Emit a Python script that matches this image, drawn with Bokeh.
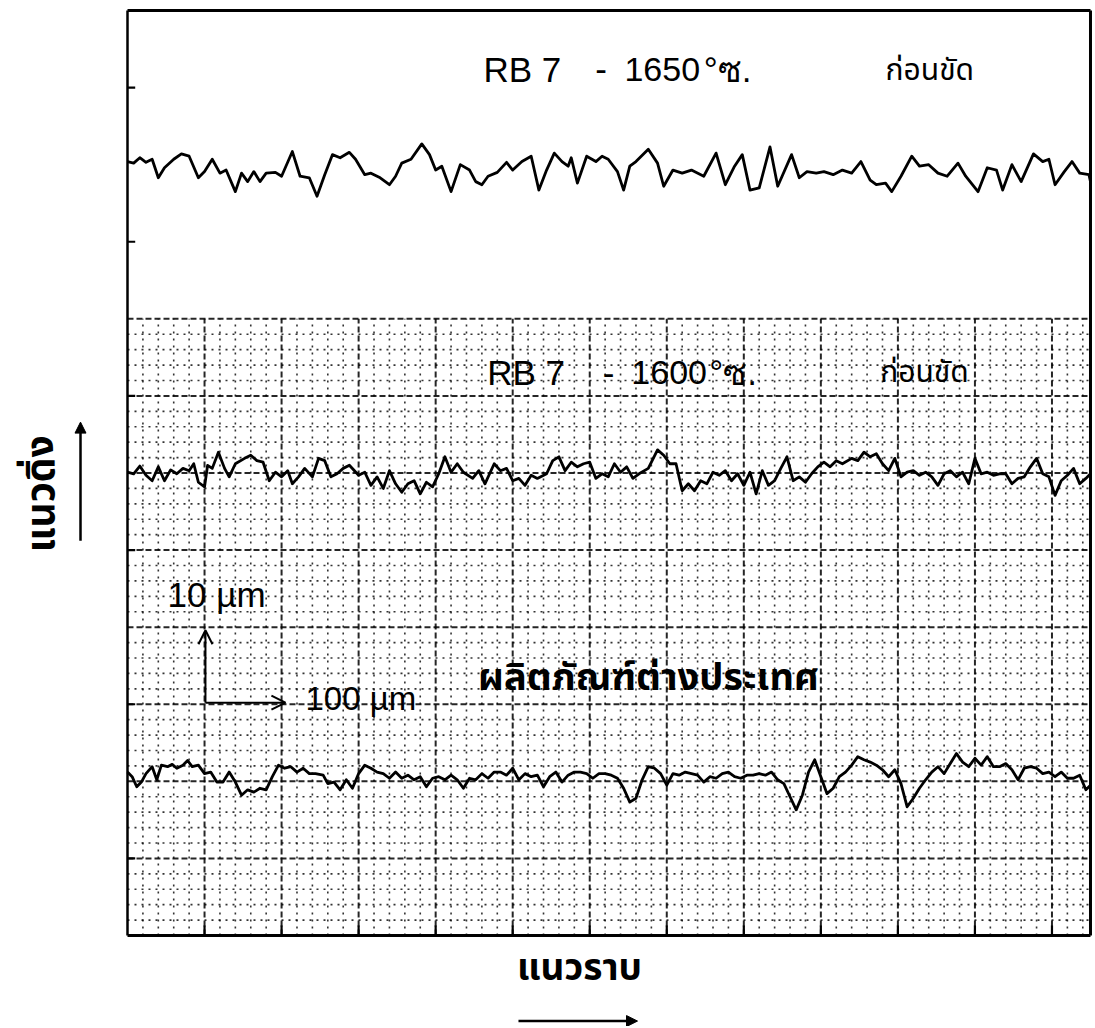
from bokeh.plotting import figure
from bokeh.models import Range1d, Label, Arrow, OpenHead, NormalHead, ColumnDataSource
from bokeh.embed import file_html
from bokeh.resources import INLINE

# ---------------- data (µm) ----------------
# profile 1: RB 7 - 1650 °C, before polishing (mean line at 100 µm on chart)
p1_x = [0, 8, 16, 24, 32, 40, 48, 60, 70, 80, 92, 100, 110, 120, 128, 140, 148, 156, 164, 172,
        180, 192, 200, 214, 224, 236, 246, 256, 266, 276, 288, 296, 308, 316, 328, 340, 348, 356,
        368, 382, 392, 400, 408, 420, 432, 444, 452, 460, 468, 480, 492, 500, 512, 524, 534, 544,
        554, 564, 572, 576, 584, 596, 608, 616, 624, 636, 644, 652, 660, 676, 688, 696, 708, 720,
        732, 748, 764, 776, 788, 798, 808, 820, 834, 844, 862, 872, 882, 894, 904, 916, 928, 940,
        952, 964, 972, 984, 992, 1004, 1018, 1028, 1040, 1052, 1064, 1078, 1088, 1104, 1116, 1128,
        1136, 1148, 1160, 1176, 1188, 1196, 1204, 1216, 1226, 1236, 1248, 1250]
p1_h = [0.4, 0.2, 0.9, 0.3, 0.7, -1.7, -0.4, 0.7, 1.4, 1.1, -1.7, -0.9, 0.7, -1.1, -0.7, -3.5,
        -1.1, -2.2, -0.9, -2.2, -1.1, -1.0, -1.5, 1.7, -1.5, -1.7, -4.1, -1.3, 1.3, 0.9, 1.6, 0.7,
        -1.3, -1.1, -1.7, -2.6, -1.5, 0.2, 0.7, 2.7, 1.3, -0.7, -0.2, -3.5, 0.0, -0.7, -2.2, -2.6,
        -1.5, -1.0, 0.3, -0.7, 0.4, 1.1, -3.3, -0.7, 1.5, 0.4, -0.2, 0.9, -2.4, 1.1, 0.4, 1.1, 0.7,
        -0.9, -3.3, -0.2, 0.4, 2.0, 0.2, -2.8, -0.7, -1.1, -0.7, -1.5, 1.5, -2.6, -0.2, 1.3, -3.3,
        -3.0, 2.3, -2.8, 1.3, -1.7, -0.9, -1.1, -0.9, -1.3, -0.7, -1.1, 0.4, -2.0, -2.6, -2.4,
        -3.5, -1.5, 1.1, -0.2, 0.0, -1.1, -1.5, 0.2, -1.5, -3.5, -0.4, -0.7, -3.3, 0.0, -2.2, 1.4,
        0.4, 0.7, -2.6, -0.9, 0.4, -1.1, -1.3, -2.2]

# profile 2: RB 7 - 1600 °C, before polishing (mean line at 60 µm)
p2_x = [0, 8, 16, 24, 32, 40, 48, 56, 64, 72, 80, 86, 92, 100, 104, 110, 118, 126, 132, 140,
        152, 160, 168, 176, 184, 192, 200, 208, 214, 222, 230, 240, 248, 256, 264, 272, 280, 288,
        300, 308, 316, 324, 332, 340, 348, 356, 364, 372, 380, 388, 396, 404, 412, 420, 428, 436,
        448, 456, 464, 476, 484, 492, 500, 508, 516, 524, 532, 544, 552, 560, 568, 576, 584, 592,
        600, 608, 616, 624, 632, 640, 648, 656, 664, 676, 688, 696, 704, 712, 720, 728, 736, 744,
        752, 760, 768, 776, 784, 792, 800, 808, 816, 824, 832, 840, 848, 856, 864, 872, 880, 888,
        896, 904, 912, 920, 928, 940, 948, 956, 964, 972, 980, 988, 996, 1004, 1012, 1020, 1028,
        1036, 1044, 1052, 1060, 1068, 1076, 1084, 1092, 1100, 1108, 1116, 1124, 1132, 1140, 1148,
        1156, 1164, 1172, 1180, 1188, 1196, 1204, 1212, 1220, 1228, 1236, 1244, 1250]
p2_h = [0.1, -0.1, 0.9, -0.3, -1.0, 0.8, -1.0, 0.4, -0.1, 0.6, 0.3, 1.2, -1.2, -1.8, 1.0, 0.6,
        2.7, 0.6, -0.5, 1.2, 1.9, 2.3, 1.6, 1.4, -1.0, 0.1, -0.5, 0.3, -1.4, -0.5, 0.6, -0.5, 1.9,
        1.6, -0.5, -0.1, 0.6, 1.0, -0.3, 0.1, -1.6, -0.5, -2.0, 0.3, -1.4, -2.5, -1.4, -1.0, -2.7,
        -1.2, -1.8, -0.1, 2.1, 0.1, 1.2, 0.1, -0.7, 0.3, -1.4, 1.2, 0.3, 0.6, -1.0, -0.7, -1.6,
        -0.3, -0.7, -0.1, 1.6, 2.1, 0.3, 1.4, 0.8, 1.2, 1.4, -0.7, -0.1, -0.5, 1.2, 0.1, 0.8, -0.7,
        -0.1, 0.6, 3.0, 2.3, 1.2, 1.2, -2.3, -1.4, -2.3, -1.0, -1.4, 0.1, -0.3, 0.3, -1.0, -0.1,
        -1.6, 0.1, -2.7, 0.3, -1.6, -1.0, 0.6, 2.1, -1.0, -0.5, -1.2, -0.1, 0.8, 1.4, 0.8, 1.6,
        1.2, 1.9, 1.6, 2.7, 2.1, 2.5, 1.2, 0.3, 1.9, -0.5, 0.1, 0.3, -0.3, 0.1, -0.5, -1.6, -0.1,
        0.3, -0.5, 0.1, -1.4, 1.9, -0.1, 0.1, -0.3, -0.1, -0.1, -1.4, -0.7, -0.5, 0.8, 1.9, -0.1,
        -0.5, -2.9, -1.0, -0.3, 0.6, -1.4, -0.7, -0.1]

# profile 3: foreign product (mean line at 20.5 µm)
p3_x = [0, 6, 12, 18, 24, 32, 38, 44, 52, 58, 64, 72, 78, 84, 92, 100, 108, 116, 124, 132, 140,
        148, 156, 164, 172, 180, 188, 196, 204, 212, 220, 228, 236, 244, 254, 260, 268, 276, 284,
        292, 300, 308, 316, 324, 332, 340, 348, 356, 364, 372, 380, 388, 396, 404, 412, 420, 428,
        436, 444, 452, 460, 468, 476, 484, 492, 500, 508, 516, 524, 532, 540, 548, 556, 564, 572,
        580, 588, 596, 604, 612, 620, 628, 636, 644, 652, 660, 668, 676, 684, 692, 700, 708, 716,
        724, 732, 740, 748, 756, 764, 772, 780, 788, 796, 804, 812, 820, 828, 836, 844, 852, 860,
        868, 876, 884, 892, 900, 908, 916, 924, 932, 940, 948, 956, 964, 972, 980, 988, 996, 1004,
        1012, 1020, 1028, 1036, 1044, 1052, 1060, 1068, 1076, 1084, 1092, 1100, 1108, 1116, 1124,
        1132, 1140, 1148, 1156, 1164, 1172, 1180, 1188, 1196, 1204, 1212, 1220, 1228, 1236, 1244,
        1250]
p3_h = [0.7, 0.1, -1.2, -0.6, 0.5, 1.4, -0.3, 1.6, 1.4, 1.7, 1.2, 1.6, 2.2, 1.4, 1.6, 0.5, 0.7,
        -0.6, -0.6, 0.7, -0.6, -2.3, -1.6, -1.9, -1.4, -1.6, 0.1, 1.6, 1.2, 1.4, 0.7, 1.2, 0.5, 0.5,
        0.3, -0.8, -0.6, -1.6, -0.3, -1.4, 0.5, 1.6, 1.2, 0.7, 0.5, -0.1, 0.7, -0.1, 0.3, -0.3, 0.1,
        -1.2, -0.1, 0.1, -0.3, 0.3, -0.3, -1.4, -0.1, -0.3, 0.5, -0.1, 0.7, 0.7, 0.3, 1.2, -0.3,
        0.5, 0.1, 0.3, -1.2, 0.1, 0.7, -0.6, 0.3, 0.7, 0.7, 0.5, -0.1, 0.5, 0.5, 0.3, -0.1, -1.4,
        -3.2, -2.7, -0.3, 1.4, 1.2, 0.5, -1.0, 0.5, 0.3, 0.7, 0.5, 0.3, -0.6, 0.1, -0.1, 0.5, 0.7,
        0.1, -0.1, 0.3, 0.3, 0.5, 0.3, 0.7, -0.3, -0.8, -2.5, -4.2, -2.3, 0.7, 2.3, 0.1, -2.1, -1.4,
        0.1, 0.7, 1.6, 2.7, 2.3, 2.0, 1.6, 1.0, 0.1, 1.0, -0.8, -3.8, -2.7, -1.4, -0.3, 0.7, 1.4,
        0.5, 1.8, 3.1, 2.0, 1.4, 2.5, 1.6, 2.7, 1.4, 1.4, 1.8, 1.0, -0.3, 1.2, 1.4, 1.2, 0.5, 0.7,
        0.1, 0.7, -0.1, -0.1, 0.3, -1.6, -1.0]

mean_lines = [100.0, 60.0, 20.5]

x_ticks = [100, 200, 300, 400, 500, 600, 700, 800, 900, 1000, 1100, 1200]
y_ticks = [10, 30, 50, 70, 90, 110]

X_MAX, Y_MAX = 1250, 120
GRID_TOP = 80

# ---------------- figure ----------------
# the whole canvas is the plotting frame; the chart box is drawn as glyphs
W, H = 1094, 1026
p = figure(width=W, height=H, output_backend="svg", toolbar_location=None,
           x_range=Range1d(-164.85, 1255.2), y_range=Range1d(-11.805, 121.297),
           min_border=0)
p.axis.visible = False
p.grid.visible = False
p.outline_line_color = None
p.background_fill_color = "white"
p.border_fill_color = "white"

# graph-paper grid (lower part only)
minor_xs = [v for v in range(20, X_MAX, 20) if v % 100]
minor_ys = [v for v in range(2, GRID_TOP, 2) if v % 10]
major_xs = list(range(100, X_MAX, 100))
major_ys = list(range(10, GRID_TOP + 1, 10))

p.segment(x0=minor_xs, y0=[0] * len(minor_xs), x1=minor_xs, y1=[GRID_TOP] * len(minor_xs),
          line_color="black", line_width=1.6, line_dash="2 5", line_alpha=0.8)
p.segment(x0=[0] * len(minor_ys), y0=minor_ys, x1=[X_MAX] * len(minor_ys), y1=minor_ys,
          line_color="black", line_width=1.6, line_dash="2 5", line_alpha=0.8)
p.segment(x0=major_xs, y0=[0] * len(major_xs), x1=major_xs, y1=[GRID_TOP] * len(major_xs),
          line_color="black", line_width=2, line_dash="6 3", line_alpha=0.85)
p.segment(x0=[0] * len(major_ys), y0=major_ys, x1=[X_MAX] * len(major_ys), y1=major_ys,
          line_color="black", line_width=2, line_dash="6 3", line_alpha=0.85)

# chart box
box = ColumnDataSource(dict(x0=[0, 0, 0, X_MAX], y0=[0, Y_MAX, 0, 0],
                            x1=[X_MAX, X_MAX, 0, X_MAX], y1=[0, Y_MAX, Y_MAX, Y_MAX],
                            w=[3, 3, 2.5, 3]))
p.segment(x0="x0", y0="y0", x1="x1", y1="y1", source=box, line_color="black", line_width="w")
# inward ticks
p.segment(x0=x_ticks, y0=[0] * len(x_ticks), x1=x_ticks, y1=[1.3] * len(x_ticks),
          line_color="black", line_width=2.2)
p.segment(x0=[0] * len(y_ticks), y0=y_ticks, x1=[10] * len(y_ticks), y1=y_ticks,
          line_color="black", line_width=2.2)

# profiles
for xs, hs, base in ((p1_x, p1_h, mean_lines[0]), (p2_x, p2_h, mean_lines[1]), (p3_x, p3_h, mean_lines[2])):
    src = ColumnDataSource(dict(x=xs, y=[base + h for h in hs]))
    p.line("x", "y", source=src, line_color="black", line_width=2.8, line_join="round")

LAT = "Liberation Sans"
THAI = "Noto Sans Thai"

def lab(x, y, text, size, font=LAT, style="normal", align="left", angle=0.0):
    p.add_layout(Label(x=x, y=y, text=text, text_font=font, text_font_size=size,
                       text_font_style=style, text_align=align, text_baseline="middle",
                       angle=angle, text_color="black"))

# titles of profile 1
lab(462, 112.35, "RB 7", "35px")
lab(607, 112.35, "-", "35px")
lab(645, 112.35, "1650", "34px")
lab(748, 112.35, "°ซ.", "35px")
lab(984, 112.2, "ก่อนขัด", "30px", font=THAI)

# titles of profile 2
lab(467, 73.0, "RB 7", "35px")
lab(617, 73.0, "-", "35px")
lab(654, 73.0, "1600", "34px")
lab(755, 73.0, "°ซ.", "35px")
lab(977, 73.0, "ก่อนขัด", "30px", font=THAI)

# scale bars
lab(52, 44.3, "10 µm", "35px")
lab(231, 30.8, "100 µm", "33px")
p.add_layout(Arrow(end=OpenHead(size=14, line_width=2), x_start=101.2, y_start=30.2,
                   x_end=101.2, y_end=39.6, line_width=2))
p.add_layout(Arrow(end=OpenHead(size=14, line_width=2), x_start=101.2, y_start=30.2,
                   x_end=205, y_end=30.2, line_width=2))

# profile 3 title
lab(455, 33.3, "ผลิตภัณฑ์ต่างประเทศ", "38px", font=THAI, style="bold")

# axis titles with arrows
lab(-110, 57.3, "แนวดิ่ง", "39px", font=THAI, style="bold", align="center", angle=1.5708)
p.add_layout(Arrow(end=NormalHead(size=11, fill_color="black", line_color="black"),
                   x_start=-61, y_start=51.2, x_end=-61, y_end=66.6, line_width=2.5))
lab(586.7, -4.3, "แนวราบ", "37px", font=THAI, style="bold", align="center")
p.add_layout(Arrow(end=NormalHead(size=11, fill_color="black", line_color="black"),
                   x_start=507.5, y_start=-11.1, x_end=662, y_end=-11.1, line_width=2.5))

open("out.html", "w").write(file_html(p, INLINE))
